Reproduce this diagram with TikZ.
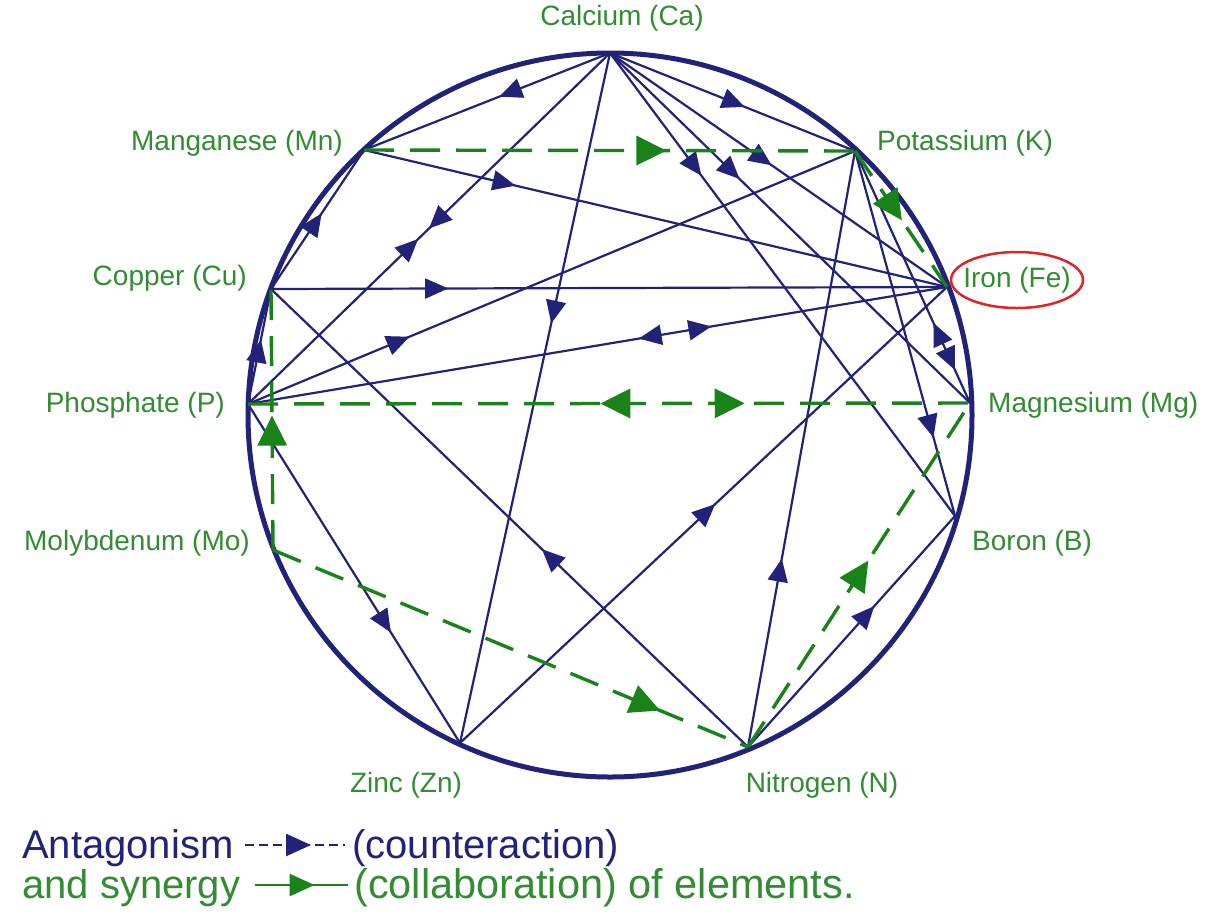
\documentclass[tikz,border=0pt]{standalone}
\usepackage{fontspec}
\setmainfont{Liberation Sans}
\usetikzlibrary{arrows.meta,decorations.markings}
\definecolor{navy}{RGB}{34,34,120}
\definecolor{grn}{RGB}{25,130,25}
\definecolor{grntext}{RGB}{50,140,50}
\definecolor{redc}{RGB}{225,35,35}
\tikzset{
  antline/.style={draw=navy, line width=2.2pt},
  synline/.style={draw=grn, line width=3.4pt, dash pattern=on 30pt off 16pt},
  bt/.style={postaction={decorate,decoration={markings,mark=at position #1 with {\arrow[navy]{Triangle[length=23pt,width=20pt]}}}}},
  btr/.style={postaction={decorate,decoration={markings,mark=at position #1 with {\arrowreversed[navy]{Triangle[length=23pt,width=20pt]}}}}},
  gt/.style={postaction={decorate,decoration={markings,mark=at position #1 with {\arrow[grn]{Triangle[length=30pt,width=29pt]}}}}},
  gtr/.style={postaction={decorate,decoration={markings,mark=at position #1 with {\arrowreversed[grn]{Triangle[length=30pt,width=29pt]}}}}},
  lab/.style={text=grntext, font=\fontsize{28}{30}\selectfont, inner sep=0pt},
  leg/.style={font=\fontsize{40}{44}\selectfont, inner sep=0pt, anchor=base west},
}
\begin{document}
\begin{tikzpicture}[x=1pt,y=-1pt]
\useasboundingbox (0,0) rectangle (1212,914);
\fill[white] (0,0) rectangle (1212,914);
% points on the circle
\coordinate (O)  at (610,415);
\coordinate (Ca) at (610,53);
\coordinate (K)  at (855,151);
\coordinate (Fe) at (947,287);
\coordinate (Mg) at (970,403);
\coordinate (B)  at (955,516);
\coordinate (N)  at (748,747);
\coordinate (Zn) at (460,743);
\coordinate (Mo) at (273,550);
\coordinate (P)  at (248,404);
\coordinate (Cu) at (271,289);
\coordinate (Mn) at (364,150);
% circle
\draw[navy, line width=5pt] (O) circle[radius=362pt];
% antagonism lines
\draw[antline, bt=0.45] (Ca) -- (Mn);
\draw[antline, bt=0.50, btr=0.53] (Ca) -- (P);
\draw[antline, bt=0.392] (Ca) -- (Zn);
\draw[antline, bt=0.55] (Ca) -- (K);
\draw[antline, bt=0.48] (Ca) -- (Fe);
\draw[antline, bt=0.36] (Ca) -- (Mg);
\draw[antline, bt=0.265] (Ca) -- (B);
\draw[antline, bt=0.26] (Mn) -- (Fe);
\draw[antline, bt=0.545] (Cu) -- (Mn);
\draw[antline, bt=0.262] (Cu) -- (Fe);
\draw[antline, bt=0.56] (P) -- (Cu);
\draw[antline, bt=0.266] (P) -- (K);
\draw[antline, btr=0.559, bt=0.663] (P) -- (Fe);
\draw[antline, bt=0.674] (P) -- (Zn);
\draw[antline, bt=0.524] (Zn) -- (Fe);
\draw[antline, bt=0.432] (N) -- (Cu);
\draw[antline, bt=0.316] (N) -- (K);
\draw[antline, bt=0.61] (N) -- (B);
\draw[antline, bt=0.785] (K) -- (B);
\draw[antline, btr=0.682, bt=0.869] (K) -- (Mg);
% synergy lines
\draw[synline, gt=0.616] (Mn) -- (K);
\draw[synline, gt=0.51] (K) -- (Fe);
\draw[synline, gtr=0.488, gt=0.688] (P) -- (Mg);
\draw[synline, gt=0.515] (Mo) -- (Cu);
\draw[synline, gt=0.815] (Mo) -- (N);
\draw[synline, gt=0.542] (N) -- (Mg);
% labels
\node[lab] (lCa) at (622,18) {Calcium (Ca)};
\node[lab, anchor=east] (lMn) at (343,143) {Manganese (Mn)};
\node[lab, anchor=west] (lK) at (877,143) {Potassium (K)};
\node[lab, anchor=east] (lCu) at (247,278) {Copper (Cu)};
\node[lab] (lFe) at (1017,280) {Iron (Fe)};
\draw[redc, line width=2.5pt] (lFe) ellipse[x radius=66pt, y radius=28pt];
\node[lab, anchor=east] (lP) at (225,405) {Phosphate (P)};
\node[lab, anchor=west] (lMg) at (988,405) {Magnesium (Mg)};
\node[lab, anchor=east] (lMo) at (250,543) {Molybdenum (Mo)};
\node[lab, anchor=west] (lB) at (972,543) {Boron (B)};
\node[lab] (lZn) at (406,785) {Zinc (Zn)};
\node[lab] (lN) at (822,785) {Nitrogen (N)};
% legend
\node[leg, text=navy] (antg) at (22,858) {Antagonism};
\coordinate (a1) at (245,845);
\coordinate (a2) at (345,845);
\draw[navy, line width=2.6pt, dash pattern=on 9pt off 5pt, postaction={decorate,decoration={markings,mark=at position 0.66 with {\arrow[navy]{Triangle[length=25pt,width=22pt]}}}}] (a1) -- (a2);
\node[leg, text=navy] (cntr) at (352,858) {(counteraction)};
\node[leg, text=grntext] (syng) at (22,898) {and synergy};
\coordinate (s1) at (255,885);
\coordinate (s2) at (348,885);
\draw[grn, line width=2.6pt, postaction={decorate,decoration={markings,mark=at position 0.64 with {\arrow[grn]{Triangle[length=25pt,width=22pt]}}}}] (s1) -- (s2);
\node[leg, text=grntext, font=\fontsize{41.5}{44}\selectfont] (coll) at (354,898) {(collaboration) of elements.};
\end{tikzpicture}
\end{document}
